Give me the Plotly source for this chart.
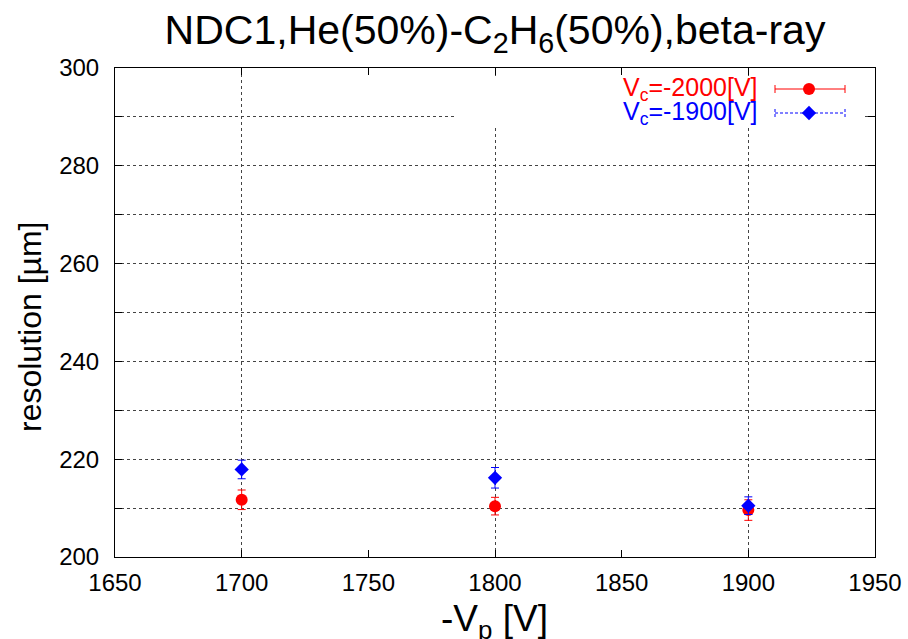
import plotly.graph_objects as go

# ---- data ----
vp = [1700, 1800, 1900]
res_2000 = [211.7, 210.4, 209.6]
err_2000 = [2.0, 1.8, 2.1]
res_1900 = [217.9, 216.2, 210.5]
err_1900 = [1.9, 2.1, 1.8]
series_names = ["V<sub>c</sub>=-2000[V]", "V<sub>c</sub>=-1900[V]"]
series_colors = ["#ff0000", "#0000ff"]
x_ticks = [1650, 1700, 1750, 1800, 1850, 1900, 1950]
y_ticks = [200, 220, 240, 260, 280, 300]

FONT = "Liberation Sans, Arial, sans-serif"
W, H = 908, 639
L, R, T, B = 115, 33, 68, 82
PW, PH = W - L - R, H - T - B


def px_x(p):
    return (p - L) / PW


def px_y(p):
    return (H - B - p) / PH


fig = go.Figure()

fig.add_trace(go.Scatter(
    x=vp, y=res_2000, mode="markers", name=series_names[0],
    marker=dict(symbol="circle", size=12, color=series_colors[0]),
    error_y=dict(type="data", array=err_2000, visible=True,
                 color=series_colors[0], thickness=1, width=4),
    showlegend=False))
fig.add_trace(go.Scatter(
    x=vp, y=res_1900, mode="markers", name=series_names[1],
    marker=dict(symbol="diamond", size=11, color=series_colors[1]),
    error_y=dict(type="data", array=err_1900, visible=True,
                 color=series_colors[1], thickness=1, width=4),
    showlegend=False))

# invisible trace to activate xaxis2 (grid every 100)
fig.add_trace(go.Scatter(x=[1650], y=[200], xaxis="x2", mode="markers",
                         marker=dict(opacity=0), showlegend=False, hoverinfo="skip"))

# ---- key (gnuplot style: text, then sample on the right) in an inset box ----
KX0, KX1, KY0, KY1 = 454, 862, 76, 128   # inset box in pixels (blanks grid)


def kx(p):
    return (p - KX0) / (KX1 - KX0)


def ky(p):
    return (KY1 - p) / (KY1 - KY0)


key_rows = [89, 113]
key_x0, key_xm, key_x1 = 775, 809, 845
for i, (nm, col, sym, dash) in enumerate(zip(series_names, series_colors,
                                             ["circle", "diamond"], ["solid", "3px,2px"])):
    yy = ky(key_rows[i])
    fig.add_trace(go.Scatter(
        x=[kx(key_x0), kx(key_x1)], y=[yy, yy], mode="lines",
        line=dict(color=col, width=1, dash=dash), xaxis="x4", yaxis="y4",
        showlegend=False, hoverinfo="skip"))
    for xe in (key_x0, key_x1):
        fig.add_trace(go.Scatter(
            x=[kx(xe), kx(xe)], y=[ky(key_rows[i] - 4), ky(key_rows[i] + 4)],
            mode="lines", line=dict(color=col, width=1, dash=dash),
            xaxis="x4", yaxis="y4", showlegend=False, hoverinfo="skip"))
    fig.add_trace(go.Scatter(
        x=[kx(key_xm)], y=[yy], mode="markers",
        marker=dict(symbol=sym, size=12 if sym == "circle" else 11, color=col),
        xaxis="x4", yaxis="y4", showlegend=False, hoverinfo="skip"))
    fig.add_annotation(
        text=nm, x=kx(760), y=yy, xref="x4", yref="y4",
        xanchor="right", yanchor="middle", showarrow=False,
        font=dict(family=FONT, size=25, color=col))

# axis titles as annotations (placed like the reference)
fig.add_annotation(text="resolution [µm]", textangle=-90,
                   x=px_x(30), y=px_y(327), xref="paper", yref="paper",
                   xanchor="center", yanchor="middle", showarrow=False,
                   font=dict(family=FONT, size=32, color="black"))
fig.add_annotation(text="-V<sub>p</sub> [V]",
                   x=px_x(494), y=px_y(596), xref="paper", yref="paper",
                   xanchor="center", yanchor="top", showarrow=False,
                   font=dict(family=FONT, size=37, color="black"))

grid = dict(gridcolor="#444444", griddash="dot", gridwidth=1)

fig.update_layout(
    width=W, height=H,
    margin=dict(l=L, r=R, t=T, b=B),
    paper_bgcolor="white", plot_bgcolor="white",
    font=dict(family=FONT, color="black", size=24),
    title=dict(text="NDC1,He(50%)-C<sub>2</sub>H<sub>6</sub>(50%),beta-ray",
               x=(L + PW / 2) / W, xanchor="center",
               y=1 - 30 / H, yanchor="middle",
               font=dict(family=FONT, size=41, color="black")),
    xaxis=dict(range=[1650, 1950], tickvals=x_ticks, showgrid=False,
               showline=True, linecolor="black", linewidth=1, mirror="allticks",
               ticks="inside", ticklen=7, tickcolor="black",
               tickfont=dict(size=24), ticklabelstandoff=4,
               zeroline=False, automargin=False),
    xaxis2=dict(range=[1650, 1950], overlaying="x", dtick=100, tick0=1700,
                showticklabels=False, showgrid=True, **grid,
                ticks="", showline=False, zeroline=False, matches="x"),
    yaxis=dict(range=[200, 300], tickvals=y_ticks, showgrid=True, **grid,
               minor=dict(dtick=10, tick0=200, showgrid=True, gridcolor="#444444",
                          griddash="dot", gridwidth=1, ticks="inside", ticklen=4,
                          tickcolor="black"),
               showline=True, linecolor="black", linewidth=1, mirror="allticks",
               ticks="inside", ticklen=7, tickcolor="black",
               tickfont=dict(size=24), ticklabelstandoff=10,
               zeroline=False, automargin=False),
    xaxis4=dict(domain=[px_x(KX0), px_x(KX1)], range=[0, 1], anchor="y4",
                visible=False, fixedrange=True),
    yaxis4=dict(domain=[px_y(KY1), px_y(KY0)], range=[0, 1], anchor="x4",
                visible=False, fixedrange=True),
)

fig.write_html("out.html")
